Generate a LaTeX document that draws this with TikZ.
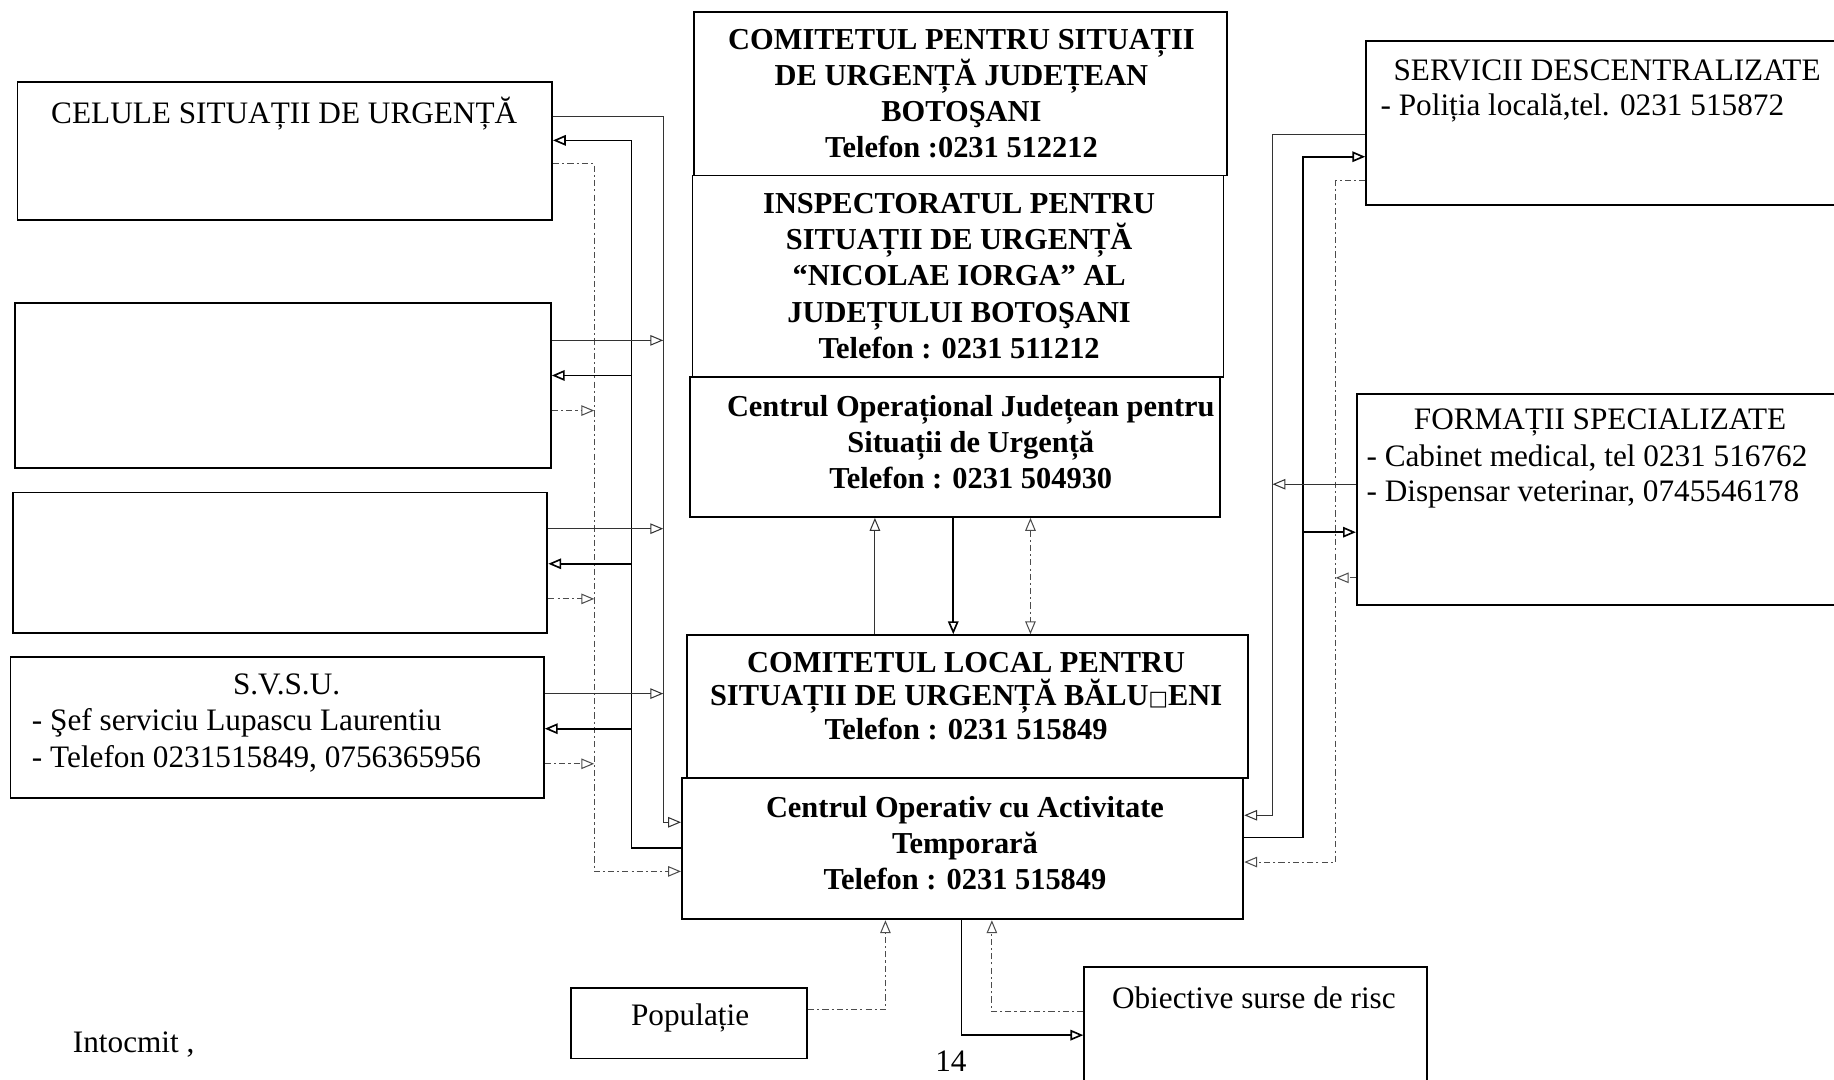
\documentclass[tikz,border=0pt]{standalone}
\usepackage{fontspec}
\setmainfont{Liberation Serif}
\newfontfamily\symfont{DejaVu Sans}
\usetikzlibrary{arrows.meta,fit}

\tikzset{
  box/.style={draw, line width=0.9pt, inner sep=0pt},
  head/.style={font=\bfseries\fontsize{14.8}{17.6}\selectfont, align=center, inner sep=0pt},
  txt/.style={font=\fontsize{15.2}{17.6}\selectfont, inner sep=0pt},
  inl/.style={line width=0.5pt, black!80},
  outl/.style={line width=0.8pt},
  dashl/.style={line width=0.5pt, black!70, dash pattern=on 3pt off 1.5pt on 1pt off 1.5pt},
  >={Triangle[open,length=2.2mm,width=1.8mm]}
}

\begin{document}
\begin{tikzpicture}[x=0.2mm,y=-0.2mm]
  \useasboundingbox (0,0) rectangle (1568,923);

  \node[box, fit={(15,70) (472,188)}] (cel) {};
  \node[box, fit={(13,259) (471,400)}] (blk2) {};
  \node[box, fit={(11,421) (468,541)}] (blk3) {};
  \node[box, fit={(9,562) (465,682)}] (svsu) {};

  \node[box, fit={(593,10) (1049,150)}] (cjs) {};
  \node[box, fit={(592,150) (1046,322)}] (isu) {};
  \node[box, fit={(590,322) (1043,442)}] (cjo) {};
  \node[box, fit={(587,543) (1067,665)}] (clsu) {};
  \node[box, fit={(583,665) (1063,786)}] (cat) {};

  \node[box, fit={(488,845) (690,905)}] (pop) {};
  \node[box, fit={(927,827) (1220,980)}] (obj) {};
  \node[box, fit={(1168,35) (1620,175)}] (serv) {};
  \node[box, fit={(1160,337) (1620,517)}] (form) {};

  \node[txt] at (243,97) {CELULE SITUAȚII DE URGENȚĂ};
  \node[txt] at (245,585) {S.V.S.U.};
  \node[txt, anchor=west] at (27,618) {- Şef serviciu Lupascu Laurentiu};
  \node[txt, anchor=west] at (27,649) {- Telefon 0231515849, 0756365956};

  \node[head] at (822,80) {COMITETUL PENTRU SITUAȚII\\DE URGENȚĂ JUDEȚEAN\\BOTOŞANI\\Telefon :0231 512212};
  \node[head] at (820,236) {INSPECTORATUL PENTRU\\SITUAȚII DE URGENȚĂ\\“NICOLAE IORGA” AL\\JUDEȚULUI BOTOŞANI\\Telefon : 0231 511212};
  \node[head] at (830,378) {Centrul Operațional Județean pentru\\Situații de Urgență\\Telefon : 0231 504930};
  \node[head, font=\bfseries\fontsize{14.8}{16.2}\selectfont] at (826,595) {COMITETUL LOCAL PENTRU\\SITUAȚII DE URGENȚĂ BĂLU{\symfont\fontsize{10}{10}\selectfont □}ENI\\Telefon : 0231 515849};
  \node[head] at (825,721) {Centrul Operativ cu Activitate\\Temporară\\Telefon : 0231 515849};

  \node[txt] at (590,870) {Populație};
  \node[txt] at (1072,853) {Obiective surse de risc};
  \node[txt] at (1374,60) {SERVICII DESCENTRALIZATE};
  \node[txt, anchor=west] at (1180,92) {- Poliția locală,tel. 0231 515872};
  \node[txt] at (1368,361) {FORMAȚII SPECIALIZATE};
  \node[txt, anchor=west] at (1168,392) {- Cabinet medical, tel 0231 516762};
  \node[txt, anchor=west] at (1168,423) {- Dispensar veterinar, 0745546178};

  \node[txt, anchor=west] at (62,893) {Intocmit ,};
  \node[txt] at (813,907) {14};

  \coordinate (tl1) at (567,0);
  \coordinate (tl2) at (540,0);
  \coordinate (tl3) at (508,0);
  \coordinate (tr1) at (1088,0);
  \coordinate (tr2) at (1114,0);
  \coordinate (tr3) at (1142,0);

  \draw[inl,->] (cel.east |- 0,100) -| (tl1 |- 0,703) -- (cat.west |- 0,703);
  \draw[outl,->] (cat.west |- 0,725) -| (tl2 |- 0,120) -- (cel.east |- 0,120);
  \draw[dashl,->] (cel.east |- 0,140) -| (tl3 |- 0,745) -- (cat.west |- 0,745);
  \foreach \b/\ya/\yb/\yc in {blk2/291/321/351,blk3/452/482/512,svsu/593/623/653} {
    \draw[inl,->] (\b.east |- 0,\ya) -- (tl1 |- 0,\ya);
    \draw[outl,->] (tl2 |- 0,\yb) -- (\b.east |- 0,\yb);
    \draw[dashl,->] (\b.east |- 0,\yc) -- (tl3 |- 0,\yc);
  }

  \draw[inl,->] (serv.west |- 0,115) -| (tr1 |- 0,697) -- (cat.east |- 0,697);
  \draw[outl,->] (cat.east |- 0,716) -| (tr2 |- 0,134) -- (serv.west |- 0,134);
  \draw[dashl,->] (serv.west |- 0,154) -| (tr3 |- 0,737) -- (cat.east |- 0,737);
  \draw[inl,->] (form.west |- 0,414) -- (tr1 |- 0,414);
  \draw[outl,->] (tr2 |- 0,455) -- (form.west |- 0,455);
  \draw[dashl,->] (form.west |- 0,494) -- (tr3 |- 0,494);

  \draw[inl,->] (clsu.north -| 748,0) -- (cjo.south -| 748,0);
  \draw[outl,->] (cjo.south -| 815,0) -- (clsu.north -| 815,0);
  \draw[dashl,<->] (cjo.south -| 881,0) -- (clsu.north -| 881,0);

  \draw[dashl,->] (pop.east |- 0,863) -| (cat.south -| 757,0);
  \draw[outl,->] (cat.south -| 822,0) |- (obj.west |- 0,885);
  \draw[dashl,->] (obj.west |- 0,865) -| (cat.south -| 848,0);
\end{tikzpicture}
\end{document}
